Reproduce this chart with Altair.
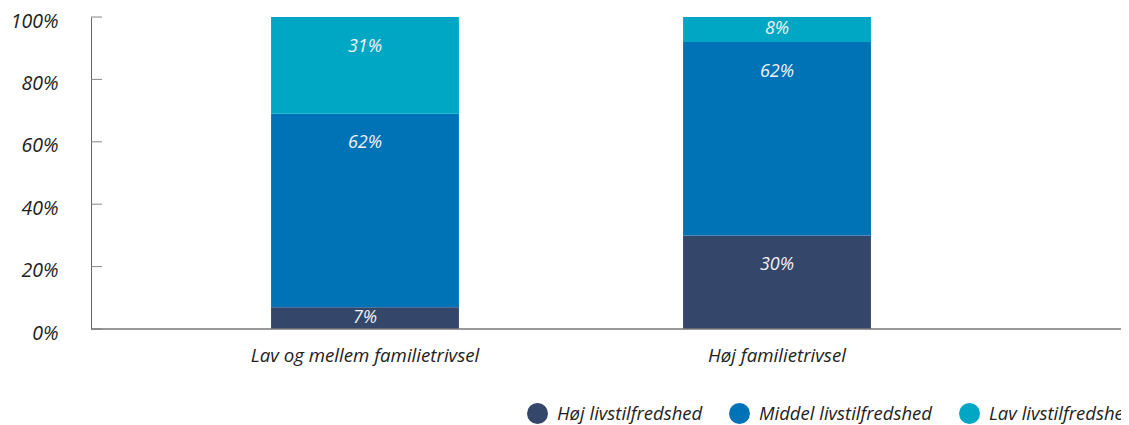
import altair as alt
import pandas as pd

categories = ["Lav og mellem familietrivsel", "Høj familietrivsel"]
levels = ["Høj livstilfredshed", "Middel livstilfredshed", "Lav livstilfredshed"]
colors = ["#344669", "#0073b7", "#00a7c4"]
values_lav_mellem = [7, 62, 31]
values_hoj = [30, 62, 8]
y_ticks = [0, 20, 40, 60, 80, 100]

rows = []
for cat, vals in zip(categories, [values_lav_mellem, values_hoj]):
    for i, (lvl, v) in enumerate(zip(levels, vals)):
        rows.append({"cat": cat, "level": lvl, "order": i, "value": v})
df = pd.DataFrame(rows)
ticks_df = pd.DataFrame({"t": y_ticks})

FONT = "Open Sans"
W, H = 1030, 312

xscale = alt.Scale(domain=categories, range=[0, 960], paddingInner=0.544, paddingOuter=0.437)
yscale = alt.Scale(domain=[0, 100], nice=False)

base = alt.Chart(df).transform_stack(
    stack="value", groupby=["cat"], as_=["y0", "y1"], sort=[alt.SortField("order")]
).transform_calculate(
    lab="datum.y1 - min(datum.value / 2, 9.5)",
    txt="datum.value + '%'",
)

bars = base.mark_bar().encode(
    x=alt.X("cat:N", scale=xscale, sort=categories, title=None,
            axis=alt.Axis(domain=False, ticks=False, labelAngle=0, labelFont=FONT,
                          labelFontStyle="italic", labelFontSize=18.7, labelColor="#222",
                          labelPadding=17, labelLimit=500)),
    y=alt.Y("y0:Q", scale=yscale, title=None,
            axis=alt.Axis(values=y_ticks, grid=False, ticks=False, domainColor="#666",
                          labelExpr="datum.value + '%'", labelFont=FONT,
                          labelFontStyle="italic", labelFontSize=19.5, labelColor="#222",
                          labelPadding=33, labelOffset=4)),
    y2="y1:Q",
    color=alt.Color("level:N", scale=alt.Scale(domain=levels, range=colors), title=None,
                    legend=alt.Legend(orient="none", legendX=436, legendY=386,
                                      direction="horizontal", symbolType="circle",
                                      symbolSize=440, symbolStrokeWidth=0, symbolOpacity=1,
                                      labelFont=FONT, labelFontStyle="italic",
                                      labelFontSize=18.5, labelColor="#222",
                                      labelOffset=9, columnPadding=26, labelLimit=400)),
    order=alt.Order("order:Q"),
)

labels = base.mark_text(font=FONT, fontStyle="italic", fontSize=18, color="#f2f2f2",
                        baseline="middle").encode(
    x=alt.X("cat:N", scale=xscale, sort=categories),
    y=alt.Y("lab:Q", scale=yscale),
    text="txt:N",
)

tick_marks = alt.Chart(ticks_df).mark_rule(color="#888", strokeWidth=1).encode(
    y=alt.Y("t:Q", scale=yscale),
    x=alt.value(0),
    x2=alt.value(11),
)

baseline = alt.Chart(ticks_df).transform_filter("datum.t == 0").mark_rule(
    color="#777", strokeWidth=1.5).encode(
    y=alt.Y("t:Q", scale=yscale),
    x=alt.value(0),
    x2=alt.value(W),
)

chart = alt.layer(bars, labels, tick_marks, baseline).properties(
    width=W, height=H,
    autosize=alt.AutoSizeParams(type="none"),
    padding={"left": 83, "top": 9, "right": 0, "bottom": 96},
).configure_view(stroke=None)

chart.save("out.html", embed_options={"renderer": "svg", "actions": False})
